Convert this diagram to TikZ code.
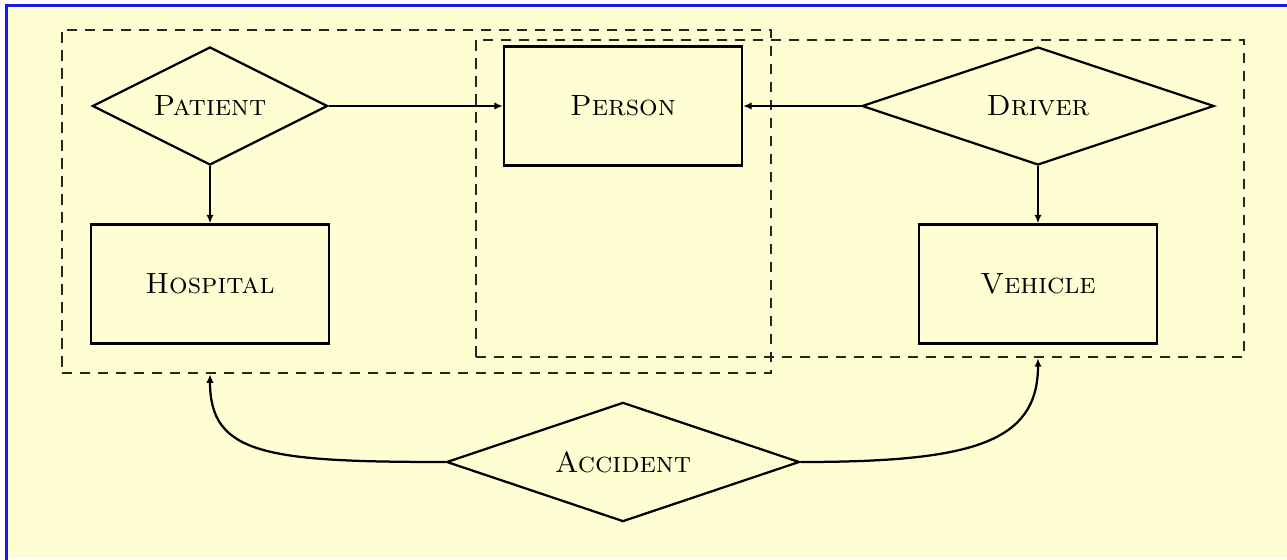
\documentclass[tikz,border=0pt]{standalone}
\usepackage{tikz}
\usetikzlibrary{arrows.meta, positioning, shapes.geometric, fit, backgrounds}
\usepackage{xcolor}
\definecolor{paper}{RGB}{255,253,210}
\definecolor{rimblue}{RGB}{25,25,235}

\begin{document}
\begin{tikzpicture}[x=0.0125cm, y=-0.0125cm,
    entity/.style={draw, thick, minimum width=2.975cm, minimum height=1.49cm, font=\fontsize{10.4}{12}\selectfont\scshape},
    relation/.style={draw, thick, diamond, aspect=2, inner sep=1pt, minimum height=1.475cm, font=\fontsize{10.4}{12}\selectfont\scshape},
    aggregate/.style={draw=black!85, line width=0.9pt, dash pattern=on 3.6pt off 2.8pt, inner sep=0pt},
    link/.style={thick, -{Latex[length=3pt, width=2.6pt]}}]
  \useasboundingbox (0,0) rectangle (1287,560);
  \fill[white] (0,0) rectangle (1287,560);
  \fill[paper] (5,4) rectangle (1287,558);
  \draw[rimblue, line width=1.1pt] (6.5,560) -- (6.5,5.5) -- (1287,5.5);

  % aggregations
  \node[aggregate, minimum width=8.8625cm, minimum height=4.2875cm] (care) at (416.5,201.5) {};
  \node[aggregate, minimum width=9.6cm, minimum height=3.9625cm] (drive) at (860,198.5) {};

  \node[relation, minimum width=2.94cm] (patient) at (210,106) {Patient};
  \node[entity] (person) at (623,106) {Person};
  \node[relation, minimum width=4.4cm] (driver) at (1038,106) {Driver};
  \node[entity] (hospital) at (210,284) {Hospital};
  \node[entity] (vehicle) at (1038,284) {Vehicle};
  \node[relation, minimum width=4.41cm, minimum height=1.49cm] (accident) at (623,462) {Accident};

  \draw[link] (patient.east) -- (person.west);
  \draw[link] (driver.west) -- (person.east);
  \draw[link] (patient.south) -- (hospital.north);
  \draw[link] (driver.south) -- (vehicle.north);
  \draw[link] (accident.west) .. controls +(-180,0) and +(0,80) .. (care.south -| patient.south);
  \draw[link] (accident.east) .. controls +(170,0) and +(0,85) .. (drive.south -| driver.south);
\end{tikzpicture}
\end{document}
